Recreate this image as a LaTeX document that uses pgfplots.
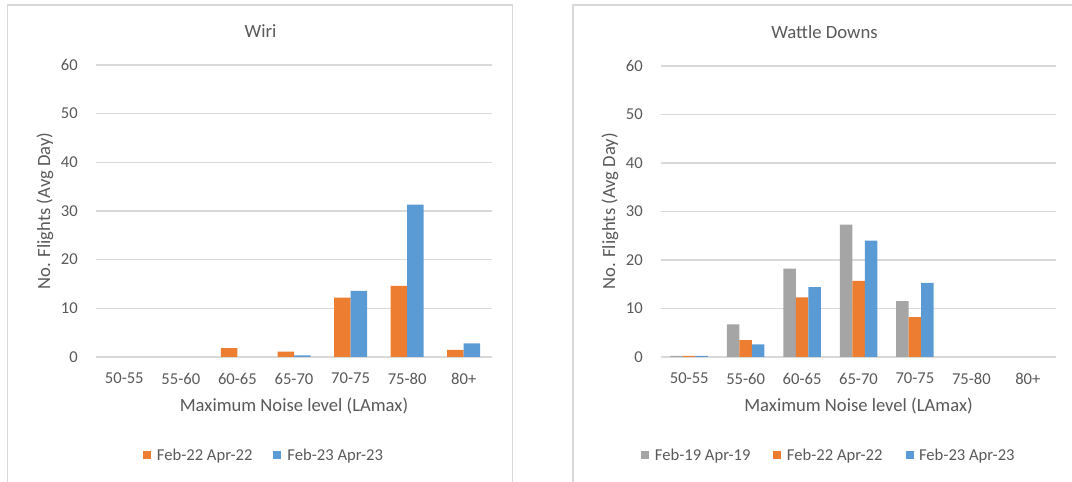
\documentclass[border=0pt]{standalone}
\usepackage{fontspec}
\setmainfont{Carlito}
\usepackage{pgfplots}
\pgfplotsset{compat=1.18}
\definecolor{txt}{HTML}{595959}
\definecolor{grd}{HTML}{D9D9D9}
\definecolor{brd}{HTML}{D9D9D9}
\definecolor{cgray}{HTML}{A5A5A5}
\definecolor{corange}{HTML}{ED7D31}
\definecolor{cblue}{HTML}{5B9BD5}
\pgfplotsset{
  panel/.style={
    scale only axis,
    ybar=0pt,
    ymin=0, ymax=60, ytick={0,10,20,30,40,50,60},
    xmin=-0.5, xmax=6.5,
    xtick={0,1,2,3,4,5,6},
    xticklabels={50-55,55-60,60-65,65-70,70-75,75-80,80+},
    major tick length=0pt,
    axis line style={draw=none},
    ymajorgrids, grid style={grd, line width=1.1bp},
    /pgf/number format/assume math mode=true,
    tick label style={font=\fontsize{16.6bp}{18bp}\selectfont, text=txt, inner sep=0pt},
    yticklabel style={anchor=east, xshift=-18bp},
    xticklabel style={anchor=north, yshift=-16bp},
    xlabel={Maximum Noise level (LAmax)},
    ylabel={No. Flights (Avg Day)},
    label style={font=\fontsize{18.6bp}{21bp}\selectfont, text=txt, inner sep=0pt},
    xlabel style={at={(axis description cs:0.5,0)}, anchor=center, yshift=-49bp},
    ylabel style={at={(axis description cs:0,0.5)}, anchor=center, yshift=51bp},
    title style={font=\fontsize{18.7bp}{21bp}\selectfont, text=txt, inner sep=0pt, anchor=center},
    legend style={draw=none, fill=none, font=\fontsize{16.6bp}{19bp}\selectfont, text=txt,
      anchor=center, nodes={inner sep=0pt}},
  },
  sq/.style={legend image code/.code={\fill[##1] (0bp,-4bp) rectangle (8bp,4bp);}},
}
\begin{document}
\begin{tikzpicture}[x=1bp,y=1bp]
\path[use as bounding box] (0,0) rectangle (1072,482);
\draw[brd, line width=1.3bp] (7.5,-2) -- (7.5,477) -- (512.7,477) -- (512.7,-2);
\draw[brd, line width=1.3bp] (573,-2) -- (573,477) -- (1080,477);

\begin{axis}[panel, at={(96bp,125bp)}, anchor=south west, width=396bp, height=292bp,
  bar width=16.5bp,
  title={Wiri},
  title style={at={(axis description cs:0.5,1)}, xshift=-33.5bp, yshift=28bp},
  legend columns=2,
  legend style={at={(axis description cs:0.4217,-0.3356)},
    /tikz/every odd column/.append style={column sep=6bp},
    /tikz/every even column/.append style={column sep=21bp}},
]
\addplot[fill=corange, draw=none, sq] coordinates {(2,1.8) (3,1.1) (4,12.2) (5,14.6) (6,1.45)};
\addlegendentry{Feb-22 Apr-22}
\addplot[fill=cblue, draw=none, sq] coordinates {(3,0.35) (4,13.6) (5,31.3) (6,2.8)};
\addlegendentry{Feb-23 Apr-23}
\end{axis}

\begin{axis}[panel, at={(661bp,125bp)}, anchor=south west, width=395bp, height=291bp,
  bar width=12.5bp,
  title={Wattle Downs},
  title style={at={(axis description cs:0.5,1)}, xshift=-34bp, yshift=28bp},
  legend columns=3,
  legend style={at={(axis description cs:0.4228,-0.3368)},
    /tikz/every odd column/.append style={column sep=5.5bp},
    /tikz/every even column/.append style={column sep=23bp}},
]
\addplot[fill=cgray, draw=none, sq] coordinates {(0,0.25) (1,6.7) (2,18.2) (3,27.3) (4,11.5)};
\addlegendentry{Feb-19 Apr-19}
\addplot[fill=corange, draw=none, sq] coordinates {(0,0.25) (1,3.5) (2,12.3) (3,15.7) (4,8.2)};
\addlegendentry{Feb-22 Apr-22}
\addplot[fill=cblue, draw=none, sq] coordinates {(0,0.25) (1,2.6) (2,14.4) (3,24.0) (4,15.3)};
\addlegendentry{Feb-23 Apr-23}
\end{axis}
\end{tikzpicture}
\end{document}
